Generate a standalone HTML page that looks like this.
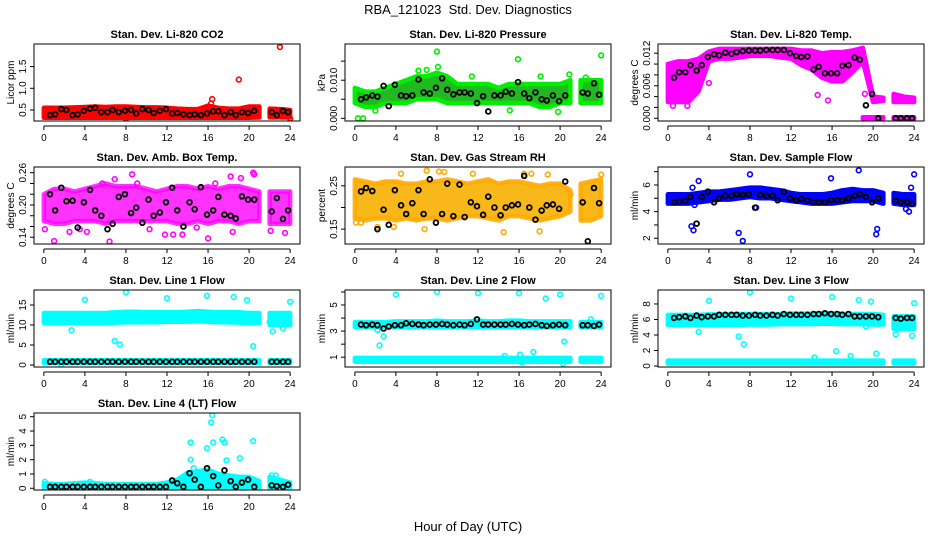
<!DOCTYPE html>
<html><head><meta charset="utf-8">
<style>
html,body{margin:0;padding:0;background:#fff;}
svg{display:block;font-family:"Liberation Sans",Arial,sans-serif;}
</style></head>
<body>
<svg id="chart" width="936" height="540" viewBox="0 0 936 540">
<rect width="936" height="540" fill="#fff"/>
<text x="468" y="14" text-anchor="middle" font-size="13">RBA_121023&#160; Std. Dev. Diagnostics</text>
<text x="468" y="531" text-anchor="middle" font-size="13">Hour of Day (UTC)</text>
</svg>
<script>
// shared x data
const bandX = [0,1,2,3,4,5,6,7,8,9,10,11,12,13,14,15,16,17,18,19,20,21,22,23,24];
const blackX = [0.6,1.1,1.7,2.2,2.8,3.3,3.9,4.5,5.0,5.6,6.2,6.7,7.3,7.9,8.5,9.0,9.6,10.2,10.7,11.3,11.9,12.5,13.0,13.6,14.2,14.7,15.3,15.9,16.5,17.0,17.6,18.2,18.7,19.3,19.9,20.5,22.2,22.7,23.3,23.8];
const xTicks = [0,4,8,12,16,20,24];

// CO2
const co2Lo = [0.32,0.32,0.32,0.32,0.32,0.32,0.32,0.32,0.32,0.32,0.32,0.32,0.32,0.32,0.32,0.32,0.32,0.32,0.32,0.32,0.32,0.33,0.33,0.33,0.33];
const co2Hi = [0.55,0.55,0.55,0.56,0.57,0.58,0.57,0.58,0.58,0.57,0.56,0.56,0.55,0.53,0.52,0.52,0.6,0.55,0.53,0.53,0.58,0.58,0.53,0.52,0.5];
const co2OutX = [16.4,16.3,19.0,23.0,8.0,24.0];
const co2OutY = [0.75,0.65,1.2,1.95,0.3,0.3];
const co2Black = [0.38,0.4,0.52,0.5,0.38,0.4,0.48,0.53,0.55,0.45,0.45,0.5,0.45,0.48,0.5,0.42,0.52,0.5,0.43,0.48,0.52,0.42,0.43,0.4,0.38,0.4,0.38,0.42,0.47,0.47,0.38,0.45,0.38,0.45,0.43,0.48,0.45,0.38,0.48,0.45];
const co2Ticks = [0.5,1.0,1.5];

// Pressure
const presLo = [0.004,0.003,0.003,0.004,0.004,0.004,0.005,0.005,0.005,0.004,0.004,0.004,0.004,0.004,0.004,0.004,0.004,0.004,0.003,0.003,0.004,0.004,0.004,0.004,0.004];
const presHi = [0.008,0.007,0.007,0.008,0.009,0.010,0.011,0.011,0.012,0.011,0.009,0.009,0.009,0.009,0.008,0.009,0.009,0.009,0.009,0.009,0.009,0.010,0.010,0.010,0.010];
const presOutX = [0.3,0.8,2,8,8.1,15.9,24,6.2,7,20.9,15.1,19.8,11.4,18.1,22.5];
const presOutY = [0,0,0.002,0.0175,0.0135,0.0155,0.0165,0.0125,0.0127,0.0115,0.0021,0.0017,0.011,0.011,0.0107];
const presBlack = [0.005,0.0055,0.006,0.0057,0.0085,0.0032,0.0088,0.006,0.0058,0.006,0.0102,0.0068,0.0065,0.008,0.0105,0.0075,0.0063,0.0068,0.0068,0.0065,0.004,0.0058,0.0018,0.006,0.006,0.007,0.0065,0.0095,0.0065,0.0053,0.0068,0.005,0.0047,0.006,0.0045,0.006,0.0068,0.0065,0.0092,0.0062];
const presTicks = [0,0.005,0.010,0.015];
const presLabels = ["0.000","","0.010",""];

// Li-820 Temp
const tempLo = [0.003,0.003,0.003,0.005,0.0105,0.011,0.011,0.0112,0.0115,0.0115,0.0115,0.0112,0.011,0.0098,0.009,0.0075,0.0068,0.0068,0.0085,0.0105,0.003,0.0032,0.003,0.003,0.003];
const tempHi = [0.010,0.0105,0.0105,0.011,0.0123,0.0128,0.0128,0.0128,0.0128,0.0128,0.0128,0.0128,0.0128,0.0125,0.0125,0.012,0.0122,0.0122,0.0125,0.013,0.004,0.0038,0.0045,0.004,0.0038];
const tempLo2 = [null,null,null,null,null,null,null,null,null,null,null,null,null,null,null,null,null,null,null,-0.0001,-0.0001,-0.0001,-0.0001,-0.0001,-0.0001];
const tempHi2 = [null,null,null,null,null,null,null,null,null,null,null,null,null,null,null,null,null,null,null,0.0002,0.0002,0.0002,0.0002,0.0002,0.0002];
const tempOutX = [0.3,0.5,1.9,4.0,14.6,15.6,19.2];
const tempOutY = [0.0033,0.0023,0.0023,0.0065,0.0043,0.0033,0.0045];
const tempBlack = [0.0075,0.0085,0.0085,0.0098,0.0088,0.0098,0.0113,0.0118,0.0116,0.0121,0.0119,0.0122,0.0124,0.0125,0.0125,0.0125,0.0126,0.0126,0.0126,0.0126,0.012,0.0115,0.0113,0.0114,0.009,0.0095,0.0083,0.0083,0.0083,0.0097,0.0098,0.0112,0.0108,0.0024,0.0045,0.0,0.0,0.0,0.0,0.0];
const tempTicks = [0,0.002,0.004,0.006,0.008,0.010,0.012];
const tempLabels = ["0.000","","","0.006","","","0.012"];

// Amb box temp
const ambLo = [0.17,0.165,0.165,0.17,0.17,0.17,0.165,0.17,0.17,0.17,0.17,0.17,0.17,0.165,0.165,0.17,0.165,0.17,0.17,0.165,0.17,0.17,0.165,0.165,0.165];
const ambHi = [0.22,0.23,0.23,0.225,0.23,0.235,0.24,0.235,0.235,0.235,0.23,0.225,0.23,0.235,0.235,0.23,0.235,0.23,0.235,0.235,0.23,0.225,0.225,0.225,0.225];
const ambOutX = [1,6.4,6.9,8.6,18.2,20.4,20.5,19.2,16.7,9.1,0.1,2.5,11.8,13.5,16,12.6,18.4,4.2,22.1,23.5,3.5,5.7,10.3,14.9];
const ambOutY = [0.133,0.132,0.248,0.257,0.253,0.26,0.257,0.25,0.24,0.24,0.155,0.15,0.145,0.145,0.138,0.145,0.15,0.15,0.152,0.148,0.155,0.24,0.155,0.158];
const ambBlack = [0.22,0.19,0.232,0.207,0.208,0.158,0.205,0.228,0.19,0.18,0.155,0.165,0.215,0.22,0.185,0.195,0.167,0.21,0.18,0.186,0.205,0.232,0.19,0.16,0.205,0.192,0.233,0.182,0.19,0.215,0.182,0.18,0.175,0.216,0.21,0.21,0.188,0.213,0.174,0.19];
const ambTicks = [0.14,0.16,0.18,0.20,0.22,0.24,0.26];
const ambLabels = ["0.14","","","0.20","","","0.26"];

// Gas stream RH
const rhLo = [0.175,0.17,0.175,0.175,0.17,0.175,0.17,0.175,0.175,0.17,0.175,0.18,0.18,0.175,0.17,0.18,0.18,0.175,0.17,0.175,0.18,0.19,0.17,0.17,0.18];
const rhHi = [0.265,0.26,0.255,0.26,0.26,0.255,0.255,0.26,0.26,0.265,0.26,0.255,0.26,0.265,0.255,0.26,0.26,0.255,0.25,0.255,0.255,0.24,0.255,0.26,0.265];
const rhOutX = [0.1,0.6,2.2,3.8,6.8,7.0,8.2,8.7,4.5,11.5,14.5,16.5,17.2,18.0,18.8,21.0,24.0];
const rhOutY = [0.165,0.165,0.155,0.155,0.15,0.285,0.283,0.282,0.278,0.278,0.143,0.278,0.278,0.145,0.276,0.23,0.276];
const rhBlack = [0.237,0.245,0.238,0.15,0.195,0.16,0.24,0.205,0.185,0.21,0.24,0.185,0.265,0.165,0.185,0.255,0.18,0.253,0.178,0.212,0.203,0.183,0.225,0.2,0.182,0.2,0.205,0.207,0.273,0.2,0.172,0.193,0.205,0.207,0.197,0.26,0.212,0.122,0.245,0.21];
const rhTicks = [0.15,0.20,0.25];
const rhLabels = ["0.15","","0.25"];

// Sample flow
const sfLo = [4.6,4.6,4.6,4.7,4.8,4.9,4.9,5.0,5.1,5.0,5.0,4.9,4.8,4.7,4.6,4.6,4.6,4.7,4.8,4.8,4.8,4.6,4.6,4.5,4.5];
const sfHi = [5.3,5.3,5.3,5.4,5.5,5.5,5.6,5.7,5.8,5.8,5.7,5.6,5.4,5.3,5.3,5.3,5.4,5.6,5.7,5.6,5.6,5.4,5.4,5.3,5.3];
const sfOutX = [2.3,2.5,3.0,6.9,7.3,8.0,15.9,18.6,20.4,20.3,24,23.7,23.2,23.5,8.6,2.4,2.6];
const sfOutY = [2.9,2.6,6.3,2.4,1.8,6.8,6.5,7.1,2.7,2.3,6.8,5.8,4.2,4.0,4.3,5.8,4.5];
const sfBlack = [4.7,4.75,4.8,5.1,3.1,5.1,5.5,4.7,5.0,5.2,5.2,5.3,5.25,5.3,4.3,5.25,5.2,5.2,4.85,5.5,5.0,4.85,4.95,4.85,4.7,4.7,4.7,4.85,4.85,4.85,5.0,5.2,5.3,5.1,4.7,5.0,4.8,4.7,4.7,4.6];
const sfTicks = [2,3,4,5,6,7];
const sfLabels = ["2","","4","","6",""];

// Line 1 flow
const l1Lo = [10.5,10.5,10.5,10.5,10.5,10.5,10.5,10.6,10.7,10.7,10.7,10.7,10.8,10.8,10.8,10.9,10.8,10.7,10.7,10.6,10.5,10.5,10.0,10.0,10.0];
const l1Hi = [13,13,13,13,13,13,13,13.2,13.3,13.3,13.2,13.2,13.2,13.2,13.3,13.5,13.3,13.2,13.2,13.2,13,13,13,13,13];
const l1Lo2 = [0.5,0.5,0.5,0.5,0.5,0.5,0.5,0.5,0.5,0.5,0.5,0.5,0.5,0.5,0.5,0.5,0.5,0.5,0.5,0.5,0.5,0.5,0.5,0.5,0.5];
const l1Hi2 = [1.2,1.2,1.2,1.2,1.2,1.2,1.2,1.2,1.2,1.2,1.2,1.2,1.2,1.2,1.2,1.2,1.2,1.2,1.2,1.2,1.2,1.2,1.2,1.2,1.2];
const l1OutX = [2.7,4,6.9,7.4,8,12,15.9,18.5,19.8,20.4,22.3,24,23.3,23.7,22,1.7];
const l1OutY = [8.7,16.3,6,5.1,18.2,16.7,17.3,17,16.2,4.7,8.4,15.8,9.2,10.5,10.8,0.1];
const l1Black = [0.8,0.8,0.8,0.8,0.8,0.8,0.8,0.8,0.8,0.8,0.8,0.8,0.8,0.8,0.8,0.8,0.8,0.8,0.8,0.8,0.8,0.8,0.8,0.8,0.8,0.8,0.8,0.8,0.8,0.8,0.8,0.8,0.8,0.8,0.8,0.8,0.8,0.8,0.8,0.8];
const l1Ticks = [0,5,10,15];

// Line 2 flow
const l2Lo = [3.3,3.3,3.3,3.3,3.3,3.3,3.3,3.3,3.3,3.3,3.3,3.3,3.3,3.3,3.3,3.3,3.3,3.3,3.3,3.3,3.3,3.3,3.3,3.3,3.3];
const l2Hi = [3.7,3.7,3.7,3.7,3.75,3.75,3.75,3.75,3.8,3.75,3.75,3.75,3.8,3.75,3.75,3.8,3.8,3.75,3.75,3.75,3.75,3.75,3.7,3.7,3.7];
const l2Lo2 = [0.65,0.65,0.65,0.65,0.65,0.65,0.65,0.65,0.65,0.65,0.65,0.65,0.65,0.65,0.65,0.65,0.65,0.65,0.65,0.65,0.65,0.65,0.65,0.65,0.65];
const l2Hi2 = [0.95,0.95,0.95,0.95,0.95,0.95,0.95,0.95,0.95,0.95,0.95,0.95,0.95,0.95,0.95,0.95,0.95,0.95,0.95,0.95,0.95,0.95,0.95,0.95,0.95];
const l2OutX = [4,8,12,16,18.6,20,24,2.4,2.8,2.2,20.4,20.3,16.1,17.4,14.6,23,16.3];
const l2OutY = [5.8,6.0,5.9,5.9,5.5,5.8,5.7,1.9,2.6,3.1,2.2,0.5,1.2,1.4,1.1,3.9,0.6];
const l2Black = [3.5,3.45,3.5,3.45,3.2,3.35,3.45,3.45,3.6,3.55,3.5,3.45,3.5,3.5,3.55,3.5,3.45,3.5,3.45,3.55,3.9,3.5,3.5,3.5,3.5,3.5,3.55,3.5,3.45,3.5,3.55,3.45,3.4,3.45,3.5,3.45,3.45,3.45,3.4,3.5];
const l2Ticks = [1,2,3,4,5,6];
const l2Labels = ["1","","3","","5",""];

// Line 3 flow
const l3Lo = [5.3,5.3,5.3,5.3,5.3,5.3,5.3,5.3,5.35,5.35,5.35,5.4,5.4,5.4,5.4,5.45,5.45,5.4,5.4,5.4,5.35,5.35,4.8,4.8,4.8];
const l3Hi = [6.6,6.6,6.6,6.6,6.65,6.65,6.65,6.7,6.7,6.7,6.7,6.7,6.75,6.75,6.75,6.8,6.8,6.75,6.7,6.7,6.7,6.6,6.4,6.4,6.4];
const l3Lo2 = [0.3,0.3,0.3,0.3,0.3,0.3,0.3,0.3,0.3,0.3,0.3,0.3,0.3,0.3,0.3,0.3,0.3,0.3,0.3,0.3,0.3,0.3,0.3,0.3,0.3];
const l3Hi2 = [0.7,0.7,0.7,0.7,0.7,0.7,0.7,0.7,0.7,0.7,0.7,0.7,0.7,0.7,0.7,0.7,0.7,0.7,0.7,0.7,0.7,0.7,0.7,0.7,0.7];
const l3OutX = [3,4,6.9,7.4,8,12,16,16.4,17.8,18.6,19.8,20.3,19.3,14.3,22.2,23.8,24];
const l3OutY = [4.4,8.4,3.8,2.8,9.5,8.7,8.9,1.9,1.3,8.5,8.3,1.6,5.1,1.1,4.1,3.9,8.1];
const l3Black = [6.2,6.3,6.4,6.2,6.5,6.3,6.4,6.4,6.6,6.6,6.6,6.6,6.5,6.5,6.6,6.5,6.5,6.6,6.5,6.7,6.6,6.6,6.6,6.6,6.7,6.7,6.8,6.7,6.7,6.6,6.7,6.4,6.4,6.4,6.4,6.3,6.2,6.1,6.2,6.2];
const l3Ticks = [0,2,4,6,8];

// Line 4 flow
const l4Lo = [0,0,0,0,0,0,0,0,0,0,0,0,0,0,0,0,0,0,0,0,0,0,0,0,0];
const l4Hi = [0.35,0.3,0.3,0.35,0.4,0.35,0.3,0.3,0.3,0.3,0.3,0.3,0.4,0.6,1.1,1.2,1.3,1.0,0.9,0.8,0.8,0.5,0.8,0.6,0.4];
const l4OutX = [14.3,14.3,16.3,16.4,16.5,15.9,17.4,17.6,17.8,19.1,20.4,14.6,22.2,22.6,0.1,4.5];
const l4OutY = [3.2,2.0,4.6,5.1,3.2,2.8,3.4,3.2,1.95,2.1,3.3,1.4,0.9,0.9,0.45,0.45];
const l4Black = [0.1,0.1,0.1,0.1,0.1,0.1,0.1,0.1,0.1,0.1,0.1,0.1,0.1,0.1,0.1,0.1,0.1,0.1,0.1,0.1,0.1,0.55,0.35,0.1,1.05,0.6,0.1,1.4,0.85,0.2,1.25,0.5,0.1,0.4,0.6,0.1,0.2,0.15,0.1,0.25];
const l4Ticks = [0,1,2,3,4,5];

const NS = "http://www.w3.org/2000/svg";
const svg = document.getElementById('chart');
const colX = [34,345,658], rowY = [44,167,290,413], PW = 266, PH = 77;

function mk(tag, attrs, parent){
  const e = document.createElementNS(NS, tag);
  for (const k in attrs) e.setAttribute(k, attrs[k]);
  parent.appendChild(e);
  return e;
}

function drawPanel(p){
  const x0 = colX[p.col], y0 = rowY[p.row];
  const g = mk('g', {}, svg);
  
  
  const xs = v => x0 + (v + 0.96) / 25.92 * PW;
  const ys = v => y0 + PH - (v - p.ymin) / (p.ymax - p.ymin) * PH;
  const clipId = 'clip-' + p.name;
  const cp = mk('clipPath', {id: clipId}, g);
  mk('rect', {x: x0, y: y0, width: PW, height: PH}, cp);
  const plot = mk('g', {'clip-path': 'url(#' + clipId + ')'}, g);
  
  

  p.bands.forEach((b, bi) => {
    let segs = [], cur = [];
    bandX.forEach((x, i) => {
      if (b.lo[i] === null) { if (cur.length) segs.push(cur); cur = []; return; }
      if (cur.length && x === 22) { segs.push(cur); cur = []; }
      cur.push(i);
    });
    if (cur.length) segs.push(cur);
    segs.forEach(seg => {
      let pts = [];
      seg.forEach(i => pts.push(xs(bandX[i]) + ',' + ys(b.hi[i])));
      for (let k = seg.length - 1; k >= 0; k--) pts.push(xs(bandX[seg[k]]) + ',' + ys(b.lo[seg[k]]));
      const poly = mk('polygon', {points: pts.join(' '), fill: p.fill, 'fill-opacity': p.fillOp || 1,
        stroke: p.color, 'stroke-width': 4.5, 'stroke-linejoin': 'round', 'stroke-opacity': p.fillOp || 1}, plot);
      
      
    });
  });
  p.outX.forEach((x, i) => {
    const c = mk('circle', {cx: xs(x), cy: ys(p.outY[i]), r: 2.4, fill: 'none', stroke: p.color, 'stroke-width': 1.6}, plot);
    
    
  });
  blackX.forEach((x, i) => {
    const c = mk('circle', {cx: xs(x), cy: ys(p.black[i]), r: 2.4, fill: 'none', stroke: '#000', 'stroke-width': 1.8}, plot);
    
    
  });

  const box = mk('rect', {x: x0, y: y0, width: PW, height: PH, fill: 'none', stroke: '#000', 'stroke-width': 1}, g);
  
  
  const ax = y0 + PH + 5;
  const xl = mk('line', {x1: xs(0), x2: xs(24), y1: ax, y2: ax, stroke: '#000'}, g);
  
  
  xTicks.forEach(t => {
    mk('line', {x1: xs(t), x2: xs(t), y1: ax, y2: ax + 4, stroke: '#000'}, g);
    const tx = mk('text', {x: xs(t), y: ax + 15, 'text-anchor': 'middle', 'font-size': 10}, g);
    tx.textContent = t;
    
    
  });
  const yl = mk('line', {x1: x0, x2: x0, y1: ys(p.ticks[0]), y2: ys(p.ticks[p.ticks.length-1]), stroke: '#000'}, g);
  
  
  p.ticks.forEach((t, i) => {
    const y = ys(t);
    mk('line', {x1: x0 - 4, x2: x0, y1: y, y2: y, stroke: '#000'}, g);
    const lab = p.labels ? p.labels[i] : String(t);
    if (lab) {
      const tx = mk('text', {x: 0, y: 0, 'text-anchor': 'middle', 'font-size': 10,
        transform: 'translate(' + (x0 - 8) + ',' + y + ') rotate(-90)'}, g);
      tx.textContent = lab;
      
      
    }
  });
  const yt = mk('text', {x: 0, y: 0, 'text-anchor': 'middle', 'font-size': 10,
    transform: 'translate(' + (x0 - 20) + ',' + (y0 + PH/2) + ') rotate(-90)'}, g);
  yt.textContent = p.ylab;
  
  
  const tt = mk('text', {x: x0 + PW/2, y: y0 - 6, 'text-anchor': 'middle', 'font-size': 11, 'font-weight': 'bold'}, g);
  tt.textContent = p.title;
  
  
}

const panels = [
  {name:'co2-panel', col:0,row:0, title:'Stan. Dev. Li-820 CO2', ylab:'Licor ppm', ymin:0.246, ymax:2.02, color:'#ff0000', fill:'#ff0000',
   bands:[{lo:co2Lo,hi:co2Hi}], outX:co2OutX, outY:co2OutY, black:co2Black, ticks:co2Ticks, labels:["0.5","1.0","1.5"]},
  {name:'pressure-panel', col:1,row:0, title:'Stan. Dev. Li-820 Pressure', ylab:'kPa', ymin:-0.0007, ymax:0.0195, color:'#00ee00', fill:'#22b822',
   bands:[{lo:presLo,hi:presHi}], outX:presOutX, outY:presOutY, black:presBlack, ticks:presTicks, labels:presLabels},
  {name:'temp-panel', col:2,row:0, title:'Stan. Dev. Li-820 Temp.', ylab:'degrees C', ymin:-0.0005, ymax:0.0137, color:'#ff00ff', fill:'#ff00ff',
   bands:[{lo:tempLo,hi:tempHi},{lo:tempLo2,hi:tempHi2}], outX:tempOutX, outY:tempOutY, black:tempBlack, ticks:tempTicks, labels:tempLabels},
  {name:'amb-temp-panel', col:0,row:1, title:'Stan. Dev. Amb. Box Temp.', ylab:'degrees C', ymin:0.1275, ymax:0.2706, color:'#ff00ff', fill:'#ff00ff', fillOp:0.8,
   bands:[{lo:ambLo,hi:ambHi}], outX:ambOutX, outY:ambOutY, black:ambBlack, ticks:ambTicks, labels:ambLabels},
  {name:'rh-panel', col:1,row:1, title:'Stan. Dev. Gas Stream RH', ylab:'percent', ymin:0.1157, ymax:0.2935, color:'#ffaa00', fill:'#f7b000', fillOp:0.9,
   bands:[{lo:rhLo,hi:rhHi}], outX:rhOutX, outY:rhOutY, black:rhBlack, ticks:rhTicks, labels:rhLabels},
  {name:'sample-flow-panel', col:2,row:1, title:'Stan. Dev. Sample Flow', ylab:'ml/min', ymin:1.57, ymax:7.35, color:'#0000ff', fill:'#0000ff',
   bands:[{lo:sfLo,hi:sfHi}], outX:sfOutX, outY:sfOutY, black:sfBlack, ticks:sfTicks, labels:sfLabels},
  {name:'line1-flow-panel', col:0,row:2, title:'Stan. Dev. Line 1 Flow', ylab:'ml/min', ymin:-0.5, ymax:18.75, color:'#00ffff', fill:'#00ffff',
   bands:[{lo:l1Lo,hi:l1Hi},{lo:l1Lo2,hi:l1Hi2}], outX:l1OutX, outY:l1OutY, black:l1Black, ticks:l1Ticks},
  {name:'line2-flow-panel', col:1,row:2, title:'Stan. Dev. Line 2 Flow', ylab:'ml/min', ymin:0.25, ymax:6.15, color:'#00ffff', fill:'#00ffff',
   bands:[{lo:l2Lo,hi:l2Hi},{lo:l2Lo2,hi:l2Hi2}], outX:l2OutX, outY:l2OutY, black:l2Black, ticks:l2Ticks, labels:l2Labels},
  {name:'line3-flow-panel', col:2,row:2, title:'Stan. Dev. Line 3 Flow', ylab:'ml/min', ymin:-0.13, ymax:9.8, color:'#00ffff', fill:'#00ffff',
   bands:[{lo:l3Lo,hi:l3Hi},{lo:l3Lo2,hi:l3Hi2}], outX:l3OutX, outY:l3OutY, black:l3Black, ticks:l3Ticks},
  {name:'line4-flow-panel', col:0,row:3, title:'Stan. Dev. Line 4 (LT) Flow', ylab:'ml/min', ymin:-0.12, ymax:5.26, color:'#00ffff', fill:'#00ffff',
   bands:[{lo:l4Lo,hi:l4Hi}], outX:l4OutX, outY:l4OutY, black:l4Black, ticks:l4Ticks}
];
panels.forEach(drawPanel);
</script>
</body></html>
